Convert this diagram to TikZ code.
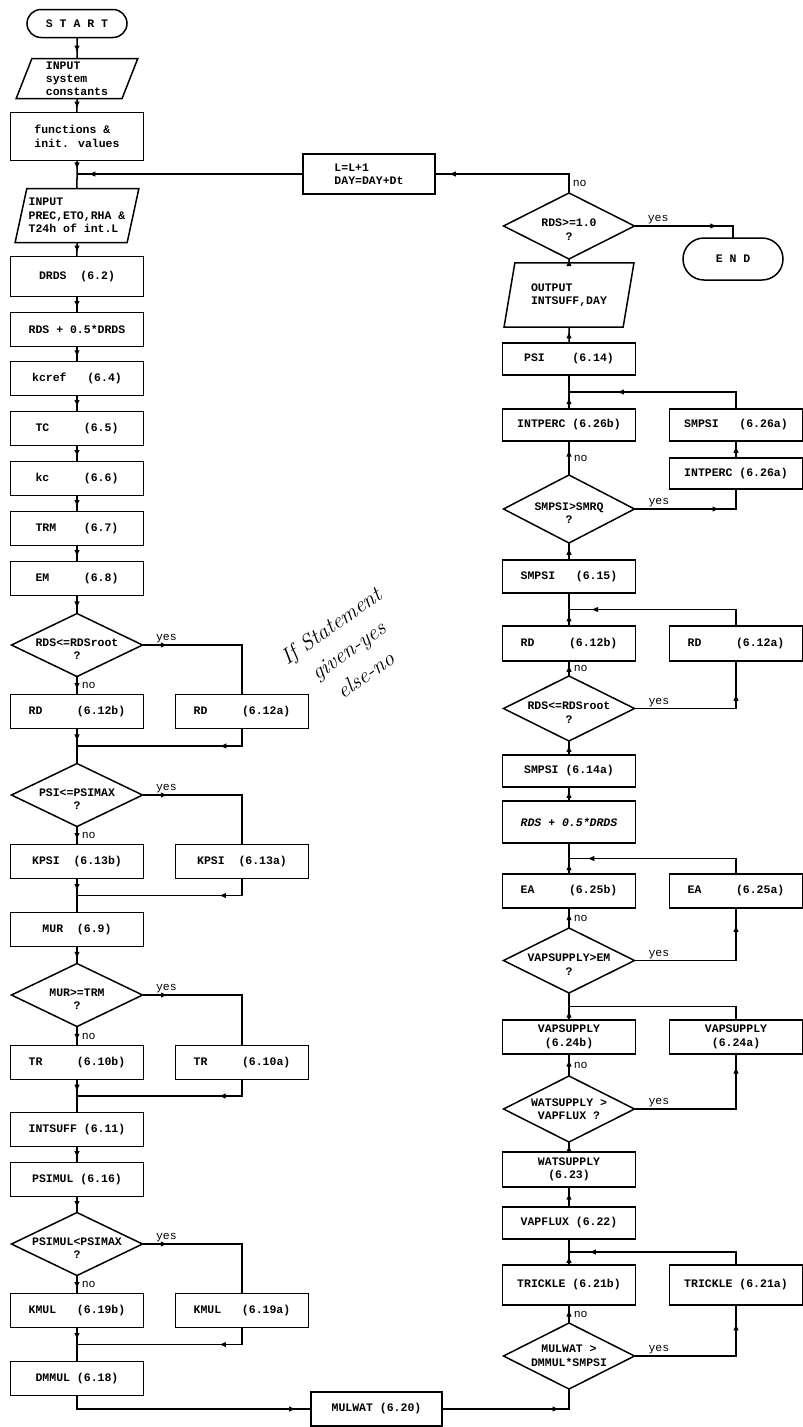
\documentclass[tikz,border=0pt]{standalone}
\usepackage{fontspec}
\newfontfamily\chartmono{Liberation Mono}
\usetikzlibrary{positioning,shapes.geometric,shapes.misc,arrows.meta,decorations.markings,calc}

\newcommand{\boxfont}{\chartmono\bfseries\fontsize{11.5}{13.5}\selectfont}
\newcommand{\tagfont}{\chartmono\fontsize{11.5}{13}\selectfont}

\tikzset{
  chartbox/.style={draw, line width=1.5pt, outer sep=0pt, font=\boxfont, inner sep=0pt, align=center},
  proc/.style={chartbox, rectangle, minimum width=133pt, minimum height=34pt},
  io/.style={chartbox, trapezium, trapezium left angle=72, trapezium right angle=108,
    trapezium stretches=true, minimum width=122pt, minimum height=40pt, align=left},
  decide/.style={chartbox, diamond, aspect=2, inner sep=-8pt, minimum width=131pt, minimum height=63pt},
  dq/.style={decide, text height=29pt, text depth=0pt},
  term/.style={chartbox, rounded rectangle, minimum width=100pt, minimum height=28pt},
  flow/.style={line width=1.5pt},
  marr/.style={postaction={decorate, decoration={markings,
    mark=at position #1 with {\arrow{Latex[length=7pt,width=5.5pt]}}}}},
  tag/.style={font=\tagfont, inner sep=1pt},
}

\begin{document}
\begin{tikzpicture}[x=1pt, y=1pt]
\useasboundingbox (0,0) rectangle (803,-1427);

% left column, top to bottom
\node[term] (start) at (77,-23.5) {S~T~A~R~T};
\node[io, font=\chartmono\bfseries\fontsize{11.5}{12.8}\selectfont] (inp1) [below=21pt of start] {INPUT\\system\\constants};
\node[proc, minimum height=48pt, align=left] (func) [below=14pt of inp1] {functions \&\\init. values};
\node[io, minimum width=124pt, minimum height=54pt] (inp2) [below=28pt of func] {INPUT\\PREC,ETO,RHA \&\\T24h of int.L};
\node[proc, minimum height=40pt] (drds) [below=14pt of inp2] {DRDS~~(6.2)};
\node[proc] (rdsh) [below=16pt of drds] {RDS + 0.5*DRDS};
\node[proc] (kcref) [below=15pt of rdsh] {kcref~~~(6.4)};
\node[proc] (tc) [below=16pt of kcref] {TC~~~~~(6.5)};
\node[proc] (kc) [below=16pt of tc] {kc~~~~~(6.6)};
\node[proc] (trm) [below=16pt of kc] {TRM~~~~(6.7)};
\node[proc] (em) [below=16pt of trm] {EM~~~~~(6.8)};
\node[dq] (rootq) [below=18pt of em] {RDS<=RDSroot\\?};
\node[proc] (rdb) [below=18pt of rootq] {RD~~~~~(6.12b)};
\node[proc] (rda) [right=32pt of rdb] {RD~~~~~(6.12a)};
\node[dq] (psiq) [below=35pt of rdb] {PSI<=PSIMAX\\?};
\node[proc] (kpsib) [below=18pt of psiq] {KPSI~~(6.13b)};
\node[proc] (kpsia) [right=32pt of kpsib] {KPSI~~(6.13a)};
\node[proc] (mur) [below=34pt of kpsib] {MUR~~(6.9)};
\node[dq] (murq) [below=17pt of mur] {MUR>=TRM\\?};
\node[proc] (trb) [below=19pt of murq] {TR~~~~~(6.10b)};
\node[proc] (tra) [right=32pt of trb] {TR~~~~~(6.10a)};
\node[proc] (intsuff) [below=33pt of trb] {INTSUFF (6.11)};
\node[proc] (psimul) [below=16pt of intsuff] {PSIMUL (6.16)};
\node[dq] (mulq) [below=16pt of psimul] {PSIMUL<PSIMAX\\?};
\node[proc] (kmulb) [below=18pt of mulq] {KMUL~~~(6.19b)};
\node[proc] (kmula) [right=32pt of kmulb] {KMUL~~~(6.19a)};
\node[proc] (dmmul) [below=34pt of kmulb] {DMMUL (6.18)};
\node[proc, minimum width=131pt] (mulwat) at (376.5,-1409) {MULWAT (6.20)};

% right column, bottom to top
\node[decide, minimum height=66pt] (sumq) at (569,-1356) {MULWAT >\\DMMUL*SMPSI};
\node[proc, minimum height=40pt] (trib) [above=18pt of sumq] {TRICKLE (6.21b)};
\node[proc, minimum height=40pt] (tria) [right=34pt of trib] {TRICKLE (6.21a)};
\node[proc, minimum height=32pt] (vapflux) [above=26pt of trib] {VAPFLUX (6.22)};
\node[proc, minimum height=35pt] (watsup) [above=20pt of vapflux] {WATSUPPLY\\(6.23)};
\node[decide, minimum height=66pt] (watq) [above=10pt of watsup] {WATSUPPLY >\\VAPFLUX ?};
\node[proc] (vapb) [above=22pt of watq] {VAPSUPPLY\\(6.24b)};
\node[proc] (vapa) [right=34pt of vapb] {VAPSUPPLY\\(6.24a)};
\node[dq, minimum height=65pt] (vapq) [above=27pt of vapb] {VAPSUPPLY>EM\\?};
\node[proc] (eab) [above=20pt of vapq] {EA~~~~~(6.25b)};
\node[proc] (eaa) [right=34pt of eab] {EA~~~~~(6.25a)};
\node[proc, minimum height=42pt] (rdsh2) [above=31pt of eab] {\itshape RDS + 0.5*DRDS};
\node[proc, minimum height=32pt] (smpsia) [above=14pt of rdsh2] {SMPSI (6.14a)};
\node[dq, minimum height=65pt] (rootq2) [above=14pt of smpsia] {RDS<=RDSroot\\?};
\node[proc, minimum height=35pt] (rdb2) [above=15pt of rootq2] {RD~~~~~(6.12b)};
\node[proc, minimum height=35pt] (rda2) [right=34pt of rdb2] {RD~~~~~(6.12a)};
\node[proc, minimum height=33pt] (smpsi15) [above=33pt of rdb2] {SMPSI~~~(6.15)};
\node[dq, minimum height=68pt] (smrq) [above=17pt of smpsi15] {SMPSI>SMRQ\\?};
\node[proc, minimum height=32pt] (percb) [above=34pt of smrq] {INTPERC (6.26b)};
\node[proc, minimum height=32pt] (smpsi26) [right=34pt of percb] {SMPSI~~~(6.26a)};
\node[proc, minimum height=31pt] (perca) [below=17pt of smpsi26] {INTPERC (6.26a)};
\node[proc, minimum height=32pt] (psi) [above=34pt of percb] {PSI~~~~(6.14)};
\node[io, minimum width=131pt, minimum height=64pt] (out) [above=16pt of psi] {OUTPUT\\INTSUFF,DAY};
\node[dq, minimum height=66pt] (endq) [above=4pt of out] {RDS>=1.0\\?};
\node[term, minimum height=42pt] (endn) at (733,-259) {E~N~D};
\node[proc, minimum width=132pt, minimum height=40pt, align=left] (nextday) at (369,-174) {L=L+1\\DAY=DAY+Dt};

% handwritten remark
\node[rotate=35, font=\itshape\fontsize{22}{30}\selectfont, align=center] (note) at (348,-650) {If Statement\\given-yes\\else-no};

% junctions
\coordinate (j0) at (func.south |- nextday.west);
\coordinate (m1) at ($(rdb.south)!0.5!(psiq.north)$);
\coordinate (m2) at ($(kpsib.south)!0.5!(mur.north)$);
\coordinate (m3) at ($(trb.south)!0.5!(intsuff.north)$);
\coordinate (m4) at ($(kmulb.south)!0.5!(dmmul.north)$);
\coordinate (r1) at ($(percb.north)!0.5!(psi.south)$);
\coordinate (r2) at ($(rdb2.north)!0.5!(smpsi15.south)$);
\coordinate (r3) at ($(eab.north)!0.5!(rdsh2.south)$);
\coordinate (r4) at ($(vapb.north)!0.5!(vapq.south)$);
\coordinate (r5) at ($(trib.north)!0.5!(vapflux.south)$);

% left column flow
\foreach \a/\b in {start/inp1, inp1/func, inp2/drds, drds/rdsh, rdsh/kcref, kcref/tc, tc/kc,
  kc/trm, trm/em, em/rootq, mur/murq, intsuff/psimul, psimul/mulq}
  \draw[flow, marr=0.72] (\a) -- (\b);
\draw[flow, marr=0.32] (func) -- (inp2);
\draw[flow, marr=0.95] (nextday.west) -- (j0);
\foreach \q/\b/\a/\m in {rootq/rdb/rda/m1, psiq/kpsib/kpsia/m2, murq/trb/tra/m3, mulq/kmulb/kmula/m4} {
  \draw[flow, marr=0.75] (\q) -- node[tag, right=3pt] {no} (\b);
  \draw[flow, marr=0.17] (\q.east) -| node[tag, pos=0.12, above] {yes} (\a.north);
  \draw[flow, marr=0.22] (\a.south) |- (\m);
}
\draw[flow, marr=0.37] (rdb) -- (psiq);
\draw[flow, marr=0.37] (kpsib) -- (mur);
\draw[flow, marr=0.37] (trb) -- (intsuff);
\draw[flow, marr=0.37] (kmulb) -- (dmmul);
\draw[flow, marr=0.94] (dmmul.south) |- (mulwat.west);
\draw[flow, marr=0.8] (mulwat.east) -| (sumq.south);

% right column flow
\foreach \a/\b in {vapflux/watsup, watsup/watq, rdsh2/smpsia, smpsia/rootq2, smpsi15/smrq, psi/out, perca/smpsi26}
  \draw[flow, marr=0.72] (\a) -- (\b);
\draw[flow, marr=0.95] (out) -- (endq);

\draw[flow, marr=0.75] (sumq) -- node[tag, right=3pt] {no} (trib);
\draw[flow, marr=0.88] (sumq.east) -| node[tag, pos=0.12, above] {yes} (tria.south);
\draw[flow, marr=0.35] (trib) -- (vapflux);
\draw[flow, marr=0.89] (tria.north) |- (r5);

\draw[flow, marr=0.75] (watq) -- node[tag, right=3pt] {no} (vapb);
\draw[flow, marr=0.92] (watq.east) -| node[tag, pos=0.12, above] {yes} (vapa.south);
\draw[flow, marr=0.35] (vapb) -- (vapq);
\draw[flow] (vapa.north) |- (r4);

\draw[flow, marr=0.75] (vapq) -- node[tag, right=3pt] {no} (eab);
\draw[flow, marr=0.89] (vapq.east) -| node[tag, pos=0.12, above] {yes} (eaa.south);
\draw[flow, marr=0.35] (eab) -- (rdsh2);
\draw[flow, marr=0.9] (eaa.north) |- (r3);

\draw[flow, marr=0.75] (rootq2) -- node[tag, right=3pt] {no} (rdb2);
\draw[flow, marr=0.78] (rootq2.east) -| node[tag, pos=0.12, above] {yes} (rda2.south);
\draw[flow, marr=0.35] (rdb2) -- (smpsi15);
\draw[flow, marr=0.88] (rda2.north) |- (r2);

\draw[flow, marr=0.75] (smrq) -- node[tag, right=3pt] {no} (percb);
\draw[flow, marr=0.7] (smrq.east) -| node[tag, pos=0.12, above] {yes} (perca.south);
\draw[flow, marr=0.35] (percb) -- (psi);
\draw[flow, marr=0.74] (smpsi26.north) |- (r1);

\draw[flow, marr=0.91] (endq.north) |- node[tag, pos=0.25, right=2pt] {no} (nextday.east);
\draw[flow, marr=0.75] (endq.east) -| node[tag, pos=0.12, above] {yes} (endn.north);
\end{tikzpicture}
\end{document}
